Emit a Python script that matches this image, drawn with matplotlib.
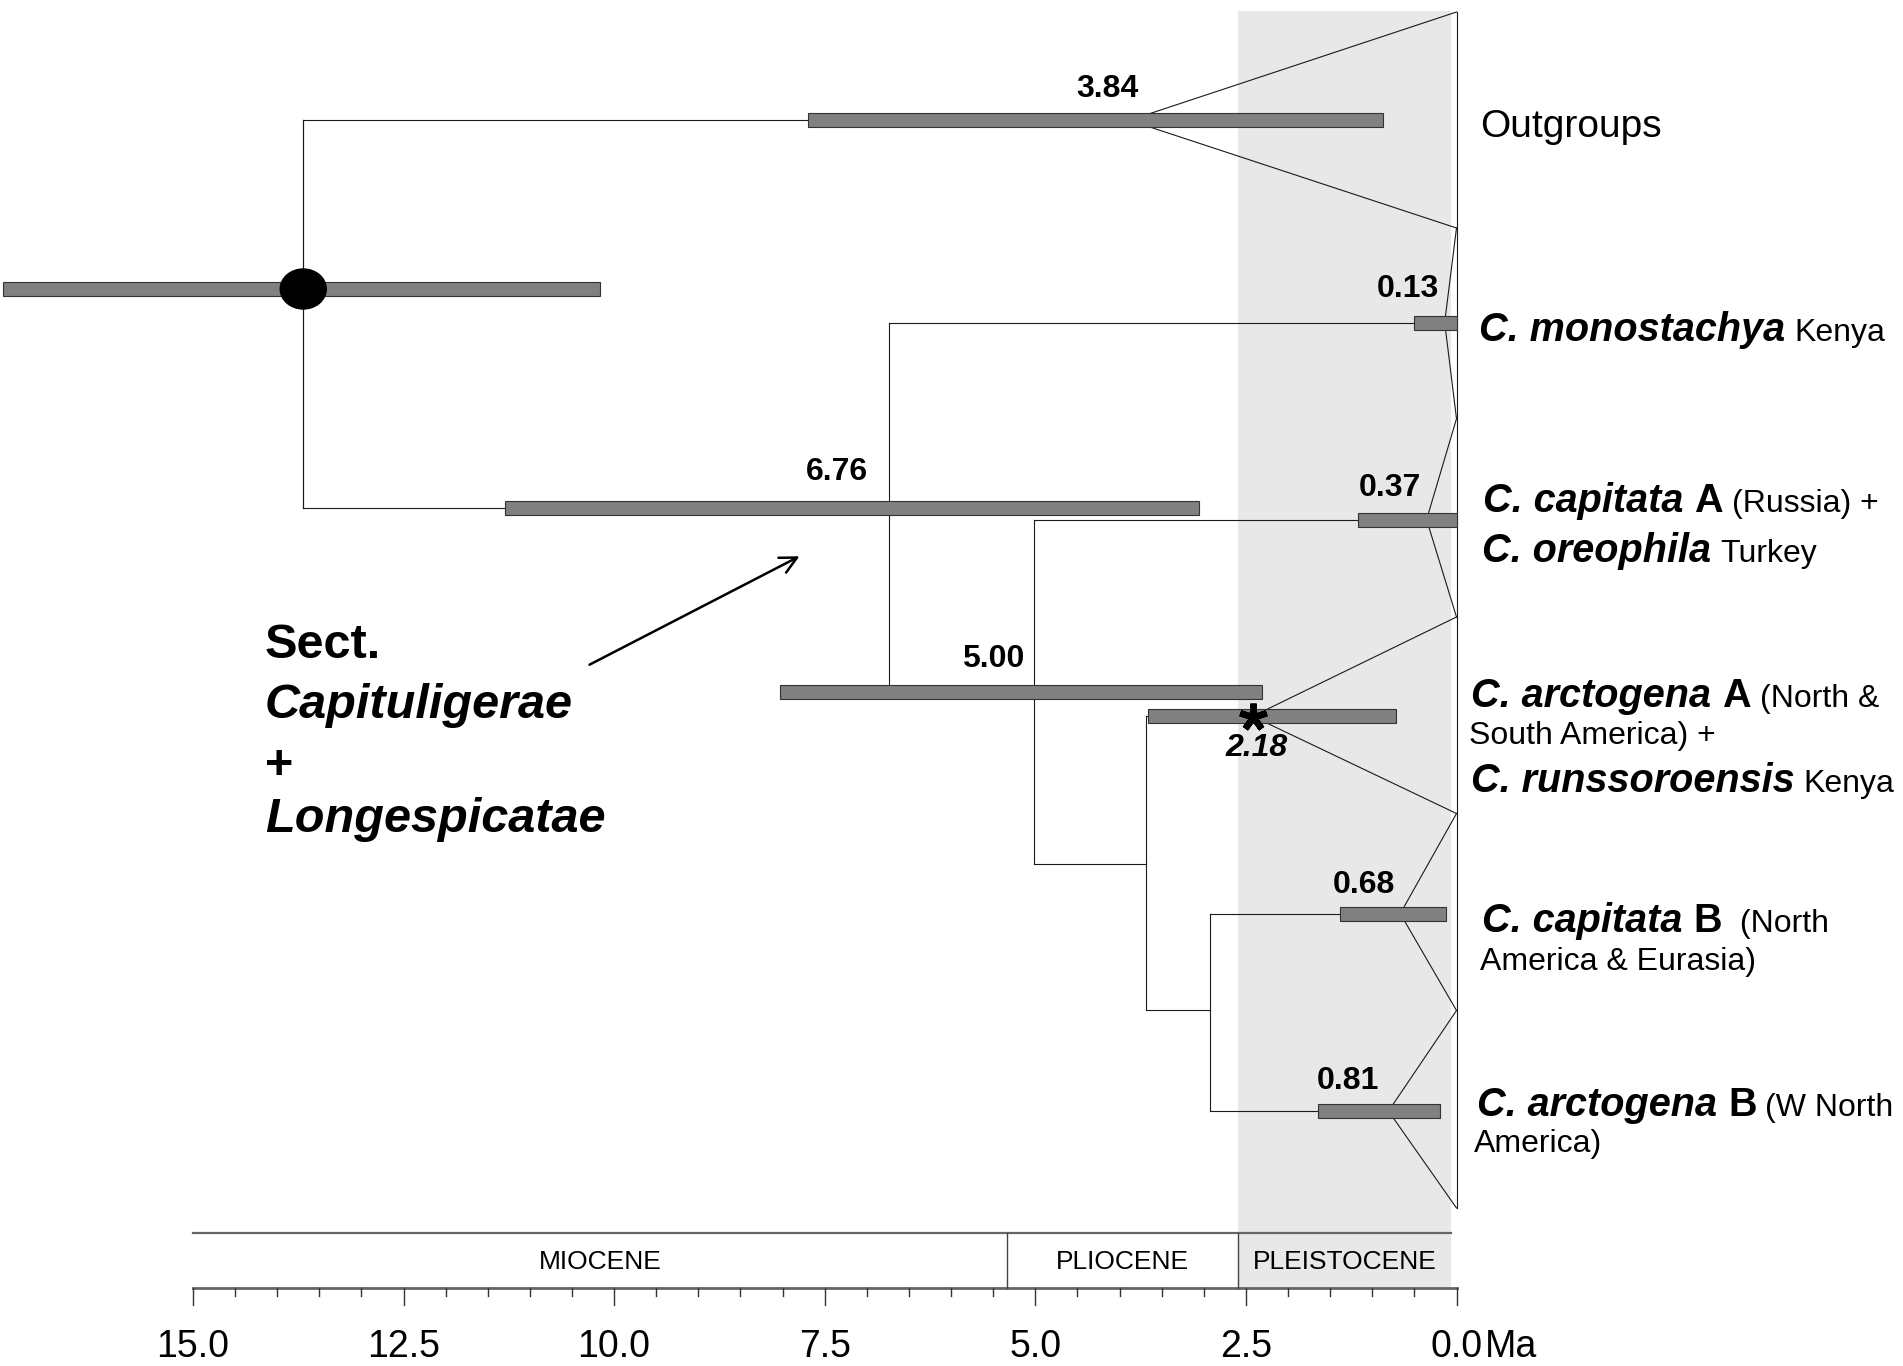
import matplotlib
matplotlib.use("Agg")
import matplotlib.pyplot as plt
from matplotlib.patches import Ellipse, Rectangle
import numpy as np

plt.rcParams['font.family'] = 'Liberation Sans'

# ---- values (ages in Ma) ----
root_age = 13.69
root_hpd = (10.17, 17.25)

node_names = ["out", "mono", "n676", "capA", "n500", "n218", "capB", "arcB"]
node_labels = ["3.84", "0.13", "6.76", "0.37", "5.00", "2.18", "0.68", "0.81"]
node_age = [3.63, 0.13, 6.74, 0.33, 5.02, 2.42, 0.62, 0.75]     # where the node is drawn
hpd_young = [0.87, 0.00, 3.06, 0.00, 2.31, 0.72, 0.13, 0.19]
hpd_old = [7.70, 0.50, 11.30, 1.17, 8.03, 3.66, 1.38, 1.64]
n369_age = 3.69
n293_age = 2.93

edges = [("root", "out"), ("root", "n676"), ("n676", "mono"), ("n676", "n500"),
         ("n500", "capA"), ("n500", "n369"), ("n369", "n218"), ("n369", "n293"),
         ("n293", "capB"), ("n293", "arcB")]
tip_clades = ["out", "mono", "capA", "n218", "capB", "arcB"]

epoch_names = ["MIOCENE", "PLIOCENE", "PLEISTOCENE"]
epoch_old = [15.0, 5.333, 2.588]
epoch_young = [5.333, 2.588, 0.06]

# ---- layout (pixel rows / columns of the 1903x1366 picture) ----
W, H = 1903, 1366
X0 = 1456.5          # column of 0 Ma
PX = 84.24           # pixels per Ma
BAR_H = 14
node_row = [120.3, 322.5, 507.5, 519.5, 692.0, 716.3, 913.5, 1111.0]
root_row = 289.0
n369_row = 864.0
n293_row = 1010.0
tip_edges = [12, 228, 418.7, 617, 813.5, 1010.5, 1208]
label_xy = [(1107, 89), (1408, 289), (837, 472), (1390, 488),
            (993, 659), (1257, 748), (1364, 885), (1348, 1081)]


def ma(xpx):
    return (X0 - xpx) / PX


fig = plt.figure(figsize=(W / 100, H / 100), dpi=100)
ax = fig.add_axes([0, 0, 1, 1])
ax.set_xlim(ma(0), ma(W))
ax.set_ylim(H, 0)
ax.axis('off')
renderer = fig.canvas.get_renderer()

LC = '#1a1a1a'
BAR = '#808080'

# Pleistocene shading
ax.add_patch(Rectangle((epoch_young[2], 10.5), epoch_old[2] - epoch_young[2], 1288 - 10.5,
                       facecolor='#e8e8e8', edgecolor='none', zorder=0))

pos = {n: (a, r) for n, a, r in zip(node_names, node_age, node_row)}
pos["root"] = (root_age, root_row)
pos["n369"] = (n369_age, n369_row)
pos["n293"] = (n293_age, n293_row)

for p, c in edges:
    pa, pr = pos[p]
    ca, cr = pos[c]
    ax.plot([pa, pa], [pr, cr], color=LC, lw=0.8, zorder=2)
    ax.plot([pa, ca], [cr, cr], color=LC, lw=0.8, zorder=2)
ax.plot([root_age, root_age], [120.3, 507.5], color=LC, lw=0.8, zorder=2)

# collapsed clades drawn as triangles to the present
for i, n in enumerate(tip_clades):
    a, r = pos[n]
    h = 0 if n == "n218" else BAR_H / 2
    ax.plot([a, 0], [r - h, tip_edges[i]], color=LC, lw=0.8, zorder=2)
    ax.plot([a, 0], [r + h, tip_edges[i + 1]], color=LC, lw=0.8, zorder=2)
ax.plot([0, 0], [tip_edges[0], tip_edges[-1]], color=LC, lw=0.8, zorder=2)

# 95% HPD bars
ax.barh(node_row, np.array(hpd_old) - np.array(hpd_young), left=hpd_young, height=BAR_H,
        color=BAR, edgecolor='#333333', linewidth=0.8, zorder=3)
ax.barh([root_row], [root_hpd[1] - root_hpd[0]], left=[root_hpd[0]], height=BAR_H,
        color=BAR, edgecolor='#333333', linewidth=0.8, zorder=3)
ax.add_patch(Ellipse((root_age, root_row), 46 / PX, 40, color='black', zorder=4))

# node age labels
for i, s in enumerate(node_labels):
    x, y = label_xy[i]
    ax.text(ma(x), y, s, fontsize=23, fontweight='bold',
            fontstyle='italic' if node_names[i] == "n218" else 'normal',
            ha='center', va='center', zorder=5)
a, r = pos["n218"]
ax.plot([a], [r + 1], marker=(5, 2, 0), markersize=20, mew=4.6, color='black', zorder=5)

# geological time scale
ax.plot([15, epoch_young[2]], [1233, 1233], color='#666666', lw=1.6, zorder=2)
ax.plot([15, 0], [1288, 1288], color='#666666', lw=2.0, zorder=2)
for b in epoch_old[1:]:
    ax.plot([b, b], [1233, 1288], color='#444444', lw=1.0, zorder=2)
for name, o, y in zip(epoch_names, epoch_old, epoch_young):
    ax.text((o + y) / 2, 1262, name, fontsize=19, ha='center', va='center')

for t in np.arange(0, 15.01, 0.5):
    major = abs(t / 2.5 - round(t / 2.5)) < 1e-6
    ax.plot([t, t], [1288, 1305 if major else 1296], color='#333333', lw=1.0, zorder=2)
for t in np.arange(0, 15.01, 2.5):
    ax.text(t, 1347, f"{t:.1f}", fontsize=27, ha='center', va='center')
ax.text(ma(1485), 1347, "Ma", fontsize=27, ha='left', va='center')

# tip labels (mixed font runs on a common baseline)
STY = {'bi': dict(fontweight='bold', fontstyle='italic'),
       'b': dict(fontweight='bold'),
       'r': dict()}
SP, LOC = 28.5, 23


def runs(x, yc, parts):
    big = max(p[1] for p in parts)
    yb = yc + 0.716 * big * 100 / 72 / 2
    for k, (s, size, sty) in enumerate(parts):
        if k:
            x += 0.278 * size * 100 / 72
        t = ax.text(ma(x), yb, s, fontsize=size, va='baseline', ha='left', **STY[sty])
        x += t.get_window_extent(renderer).width


runs(1480, 122.6, [("Outgroups", 28, 'r')])
runs(1479, 326.5, [("C. monostachya", SP, 'bi'), ("Kenya", LOC, 'r')])
runs(1483, 497.6, [("C. capitata", SP, 'bi'), ("A", SP, 'b'), ("(Russia) +", LOC, 'r')])
runs(1482, 547.4, [("C. oreophila", SP, 'bi'), ("Turkey", LOC, 'r')])
runs(1471, 693, [("C. arctogena", SP, 'bi'), ("A", SP, 'b'), ("(North &", LOC, 'r')])
runs(1469, 733, [("South America) +", LOC, 'r')])
runs(1471, 778, [("C. runssoroensis", SP, 'bi'), ("Kenya", LOC, 'r')])
runs(1482, 917.6, [("C. capitata", SP, 'bi'), ("B", SP, 'b'), (" (North", LOC, 'r')])
runs(1480, 959, [("America & Eurasia)", LOC, 'r')])
runs(1477, 1102, [("C. arctogena", SP, 'bi'), ("B", SP, 'b'), ("(W North", LOC, 'r')])
runs(1474, 1141, [("America)", LOC, 'r')])

# section label with arrow
runs(265, 641, [("Sect.", 35, 'b')])
runs(265, 701, [("Capituligerae", 35, 'bi')])
runs(265, 762, [("+", 35, 'b')])
runs(265, 815, [("Longespicatae", 35, 'bi')])
ax.annotate('', xy=(ma(802), 555), xytext=(ma(587), 666),
            arrowprops=dict(arrowstyle='->', lw=1.8, color='black', mutation_scale=30))

fig.savefig('out.png', dpi=100)
